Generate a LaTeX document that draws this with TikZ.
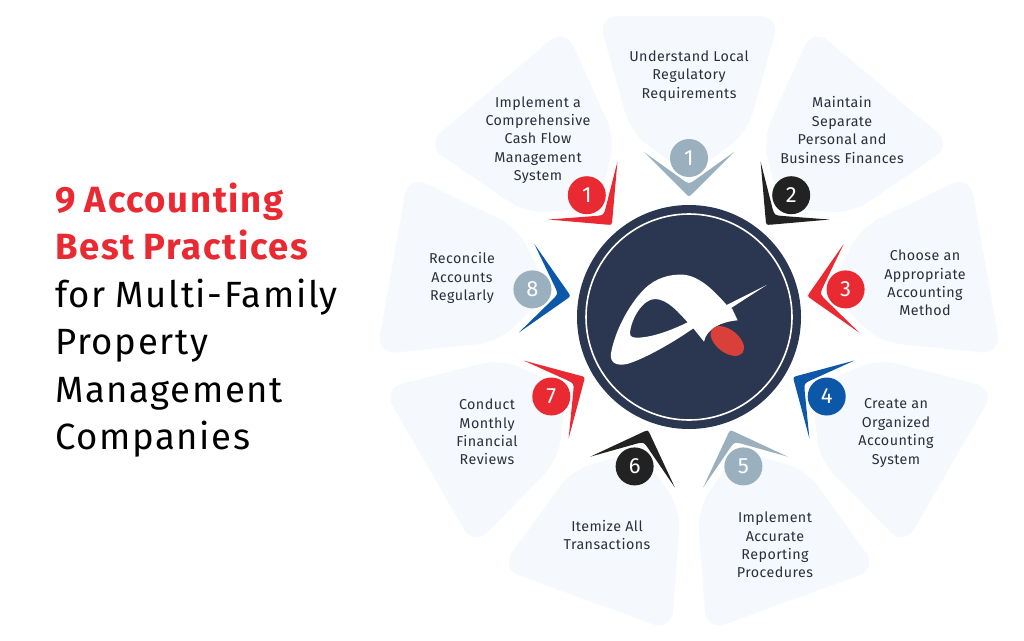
\documentclass[tikz,border=0pt]{standalone}
\usepackage{fontspec}
\setmainfont{Fira Sans}
\newfontfamily\labelfont[LetterSpace=3]{Fira Sans}
\newfontfamily\titlefont[LetterSpace=4.5,WordSpace=0.9]{Fira Sans}
\definecolor{cred}{HTML}{EA2A33}
\definecolor{cblack}{HTML}{222222}
\definecolor{cblue}{HTML}{0D57A8}
\definecolor{cgray}{HTML}{9AB0BF}
\definecolor{cnavy}{HTML}{2B3750}
\definecolor{cpetal}{HTML}{F5F8FD}
\definecolor{ctext}{HTML}{2A2F3A}
\definecolor{clogored}{HTML}{D9403A}
\tikzset{
  petal/.style={fill=cpetal,rounded corners=20},
  label/.style={align=center,text=ctext,font=\labelfont\fontsize{14.3}{18.4}\selectfont,inner sep=0},
  badge/.style={circle,minimum size=38,inner sep=0,text=white,font=\fontsize{22}{22}\selectfont},
  title/.style={align=left,anchor=west,inner sep=0,text=black,font=\titlefont\fontsize{36.5}{47.4}\selectfont}
}
\begin{document}
\begin{tikzpicture}[x=1pt,y=-1pt]
\useasboundingbox (0,0) rectangle (1024,640);
\fill[white] (0,0) rectangle (1024,640);
\coordinate (c) at (689,317);
% petals
\foreach \a in {0,40,...,320}{
  \begin{scope}[shift={(c)},rotate=-\a]
    \fill[petal] (-91,-301) -- (91,-301) -- (58,-184) -- (0,-142) -- (-58,-184) -- cycle;
  \end{scope}
}
% chevrons and number badges
\foreach \a/\col/\bcol/\n/\nm in {0/cgray/cgray/1/a,40/cblack/cblack/2/b,80/cred/cred/3/d,120/cblue/cblue/4/e,160/cgray/cgray/5/f,200/cblack/cblack/6/g,240/cred/cred/7/h,280/cblue/cgray/8/i,320/cred/cred/1/j}{
  \begin{scope}[shift={(c)},rotate=-\a]
    \fill[\col] (-45,-165) -- (-4,-124) .. controls (0,-120) .. (4,-124) -- (45,-165)
       -- (6,-137) .. controls (0,-133) .. (-6,-137) -- cycle;
    \coordinate (p\nm) at (0,-159);
  \end{scope}
  \node[badge,fill=\bcol] (badge\nm) at (p\nm) {\n};
}
% centre disc
\node[circle,fill=cnavy,minimum size=224,inner sep=0] (disc) at (c) {};
\node[circle,draw=white,line width=1.6,minimum size=206,inner sep=0] (ring) at (c) {};
% logo
\begin{scope}[shift={(600,265)},x=0.3333pt,y=-0.3333pt]
  \fill[white,even odd rule] (33,265) .. controls (43,205) and (83,122) .. (133,72)
     .. controls (168,38) and (210,27) .. (250,29)
     .. controls (300,33) and (345,80) .. (380,120)
     -- (500,60) -- (392,130) -- (396,130) -- (413,166)
     .. controls (365,170) and (320,190) .. (312,230)
     -- (280,190)
     .. controls (220,232) and (140,278) .. (85,296)
     .. controls (55,304) and (28,297) .. (33,265) -- cycle
     (90,205) .. controls (92,165) and (127,102) .. (165,102)
     .. controls (203,102) and (238,145) .. (263,172)
     .. controls (215,195) and (160,217) .. (112,218)
     .. controls (97,218) and (90,215) .. (90,205) -- cycle;
  \fill[clogored,rotate around={-38:(382,228)}] (382,228) ellipse [x radius=58,y radius=34];
\end{scope}
% labels
\node[label] (t1) at (689,76) {Understand Local\\Regulatory\\Requirements};
\node[label] (t2) at (842,130) {Maintain\\Separate\\Personal and\\Business Finances};
\node[label] (t3) at (925,283) {Choose an\\Appropriate\\Accounting\\Method};
\node[label] (t4) at (896,433) {Create an\\Organized\\Accounting\\System};
\node[label] (t5) at (775,545) {Implement\\Accurate\\Reporting\\Procedures};
\node[label] (t6) at (607,535) {Itemize All\\Transactions};
\node[label] (t7) at (487,432) {Conduct\\Monthly\\Financial\\Reviews};
\node[label] (t8) at (462,278) {Reconcile\\Accounts\\Regularly};
\node[label] (t9) at (538,140) {Implement a\\Comprehensive\\Cash Flow\\Management\\System};
% title
\node[title] (head) at (55,320) {\textcolor{cred}{\textbf{9 Accounting}}\\\textcolor{cred}{\textbf{Best Practices}}\\for Multi-Family\\Property\\Management\\Companies};
\end{tikzpicture}
\end{document}
